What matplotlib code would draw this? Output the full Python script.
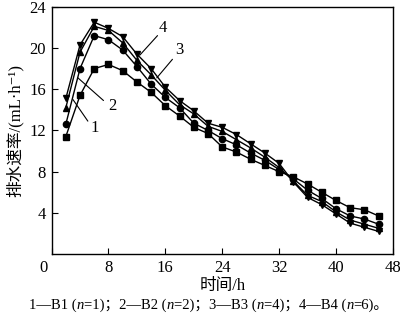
import matplotlib
matplotlib.use('Agg')
import matplotlib.pyplot as plt
import numpy as np

FONTS = ['Liberation Serif', 'DejaVu Serif', 'Noto Sans CJK SC']
plt.rcParams['font.family'] = FONTS

# time (h) and drainage rate (mL/h) for the four samples
hours = [2, 4, 6, 8, 10, 12, 14, 16, 18, 20, 22, 24, 26, 28, 30, 32, 34, 36, 38, 40, 42, 44, 46]
rate_b1 = [11.4, 15.4, 18.0, 18.4, 17.8, 16.7, 15.7, 14.4, 13.4, 12.3, 11.7, 10.4,
           9.9, 9.2, 8.6, 8.0, 7.5, 6.8, 6.0, 5.2, 4.5, 4.3, 3.7]
rate_b2 = [12.6, 18.0, 21.2, 20.8, 19.8, 18.2, 16.5, 15.2, 14.2, 12.7, 12.0, 11.2,
           10.6, 9.8, 9.1, 8.2, 7.3, 6.2, 5.4, 4.4, 3.7, 3.4, 2.9]
rate_b3 = [14.2, 19.6, 22.1, 21.7, 20.5, 18.8, 17.4, 15.9, 14.5, 13.6, 12.4, 11.9,
           11.1, 10.3, 9.4, 8.4, 7.1, 5.7, 5.1, 4.1, 3.3, 2.9, 2.5]
rate_b4 = [15.1, 20.3, 22.5, 21.9, 21.1, 19.4, 18.0, 16.2, 14.9, 13.9, 12.7, 12.3,
           11.6, 10.7, 9.8, 8.8, 7.0, 5.5, 4.8, 3.9, 3.0, 2.6, 2.2]

labels = ['1', '2', '3', '4']
label_pos = [(6.1, 12.2), (8.5, 14.4), (18.0, 19.8), (15.7, 21.9)]
leader_start = [(5.1, 12.9), (7.3, 14.9), (17.0, 18.9), (14.9, 21.2)]
leader_end = [(3.0, 15.0), (3.7, 17.1), (14.8, 17.1), (12.4, 19.3)]

# caption pieces: (text, italic?)
caption = [('1—B1 (', False), ('n', True), ('=1)；2—B2 (', False), ('n', True),
           ('=2)；3—B3 (', False), ('n', True), ('=4)；4—B4 (', False), ('n', True),
           ('=6)。', False)]

fig = plt.figure(figsize=(4.0, 3.22), dpi=100)
ax = fig.add_axes([0.129, 0.211, 0.853, 0.768])

series = [rate_b1, rate_b2, rate_b3, rate_b4]
markers = ['s', 'o', '^', 'v']
for vals, m in zip(series, markers):
    ax.plot(hours, vals, color='black', linewidth=1.0, marker=m, markersize=4.5,
            markerfacecolor='black', markeredgecolor='black')

for lab, tp, s, e in zip(labels, label_pos, leader_start, leader_end):
    ax.annotate('', xy=e, xytext=s,
                arrowprops=dict(arrowstyle='-', lw=0.8, color='black', shrinkA=0, shrinkB=0))
    ax.text(tp[0], tp[1], lab, fontsize=12, ha='center', va='center')

ax.set_xlim(0, 48)
ax.set_ylim(0, 24)
ax.set_xticks([0, 8, 16, 24, 32, 40, 48])
ax.set_xticklabels(['', '8', '16', '24', '32', '40', '48'])
ax.set_yticks([4, 8, 12, 16, 20, 24])
ax.tick_params(direction='in', length=4, width=0.8, labelsize=12, pad=4)
ax.text(-1.1, -0.55, '0', fontsize=12, ha='center', va='top')
for sp in ax.spines.values():
    sp.set_linewidth(1.0)

ax.set_xlabel('时间/h', fontsize=12, labelpad=2)
ax.set_ylabel('排水速率/(mL·h⁻¹)', fontsize=12, labelpad=4)

# caption built from pieces so that n can be italic
prev_bb = None
for txt, ital in caption:
    style = 'italic' if ital else 'normal'
    x0 = 0.072 if prev_bb is None else prev_bb.x1 / fig.bbox.width
    t = fig.text(x0, 0.052, txt, fontsize=10.5, style=style, ha='left', va='center')
    fig.canvas.draw()
    prev_bb = t.get_window_extent()

fig.savefig('out.png', dpi=100)
